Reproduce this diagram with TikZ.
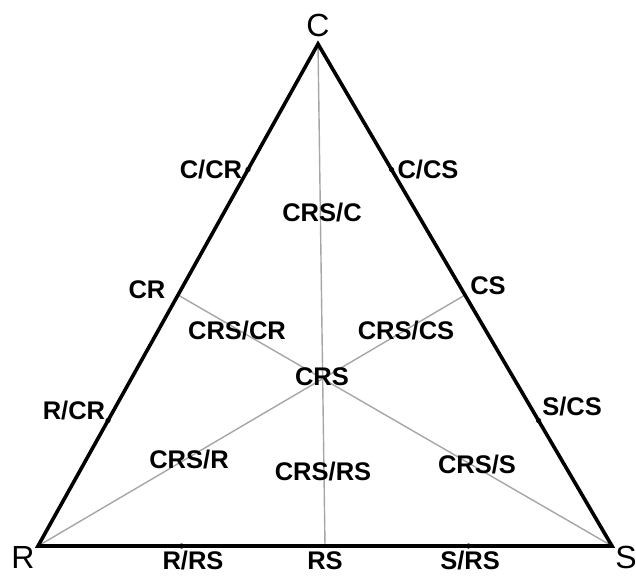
\documentclass[tikz,border=0pt]{standalone}
\usepackage{fontspec}
\setmainfont{Liberation Sans}
\usetikzlibrary{calc}

\begin{document}
\begin{tikzpicture}[x = 1pt, y = -1pt,
	zone/.style = {font = \fontsize{25.5}{25.5}\selectfont\bfseries, inner sep = 0pt},
	corner/.style = {font = \fontsize{32}{32}\selectfont, inner sep = 0pt},
	median/.style = {draw = black!35, line width = 1.4pt},
	side/.style = {draw = black, line width = 3.6pt, line join = miter}]

	% Frame
	
	\useasboundingbox (0, 0) rectangle (636, 576);
	
	% Corners
	
	\coordinate (C) at (318, 44);
	\coordinate (R) at (38, 546);
	\coordinate (S) at (612, 546);
	
	% Edge midpoints
	
	\coordinate (CR) at ($(C)!0.5!(R)$);
	\coordinate (CS) at ($(C)!0.5!(S)$);
	\coordinate (RS) at ($(R)!0.5!(S)$);
	
	% Medians
	
	\draw [median] (C) -- (RS);
	\draw [median] (R) -- (CS);
	\draw [median] (S) -- (CR);
	
	% Sides
	
	\draw [side] (C) -- (R) -- (S) -- cycle;
	
	% Quarter marks
	
	\foreach \a/\b/\n in {C/R/CCR, C/S/CCS, R/C/RCR, S/C/SCS, R/S/RRS, S/R/SRS}
		\fill ($(\a)!0.25!(\b)$) coordinate (\n) circle (2.6);
	
	% Corner labels
	
	\node [corner] (lC) at (318, 25) {C};
	\node [corner] (lR) at (23, 557) {R};
	\node [corner] (lS) at (626, 557) {S};
	
	% Edge labels
	
	\node [zone] (lCCR) at (211, 170) {C/CR};
	\node [zone] (lCCS) at (428, 170) {C/CS};
	\node [zone] (lCR) at (147, 290) {CR};
	\node [zone] (lCS) at (488, 286) {CS};
	\node [zone] (lRCR) at (74, 411) {R/CR};
	\node [zone] (lSCS) at (572, 407) {S/CS};
	\node [zone] (lRRS) at (193, 561) {R/RS};
	\node [zone] (lRS) at (325, 561) {RS};
	\node [zone] (lSRS) at (470, 561) {S/RS};
	
	% Inner labels
	
	\node [zone] (lCRSC) at (322, 213) {CRS/C};
	\node [zone] (lCRSCR) at (237, 331) {CRS/CR};
	\node [zone] (lCRSCS) at (406, 331) {CRS/CS};
	\node [zone] (lCRS) at (322, 377) {CRS};
	\node [zone] (lCRSR) at (189, 460) {CRS/R};
	\node [zone] (lCRSRS) at (323, 472) {CRS/RS};
	\node [zone] (lCRSS) at (477, 465) {CRS/S};

\end{tikzpicture}
\end{document}
